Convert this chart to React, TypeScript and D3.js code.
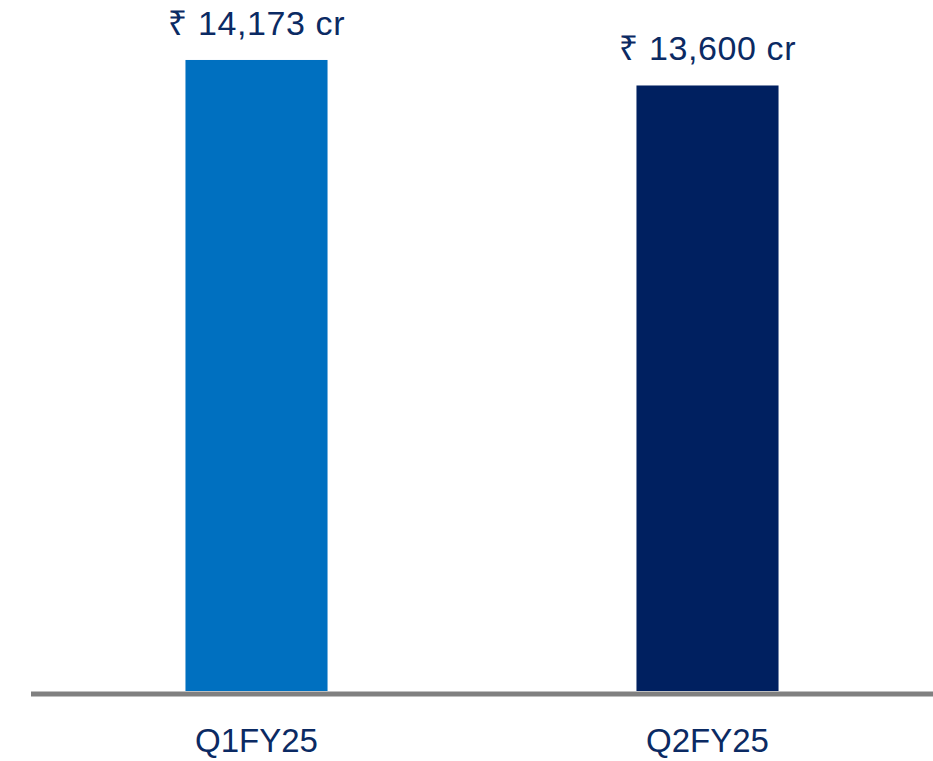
import * as d3 from "d3";
import { useEffect, useRef } from "react";

const categories = ["Q1FY25", "Q2FY25"];
const values = [14173, 13600];
const valueLabels = ["₹ 14,173 cr", "₹ 13,600 cr"];
const barColors = ["#0070c0", "#002060"];

export default function App() {
  const ref = useRef<SVGSVGElement>(null);
  const width = 933;
  const height = 761;

  useEffect(() => {
    const svg = d3.select(ref.current);
    svg.selectAll("*").remove();

    const baseY = 691;
    const x = d3
      .scaleBand()
      .domain(categories)
      .range([31, 933])
      .paddingInner(0.685)
      .paddingOuter(0.3425);

    const y = d3.scaleLinear().domain([0, 15520]).range([baseY, 0]);

    const font = "'Liberation Sans', Arial, 'Noto Sans', sans-serif";
    const textColor = "#0b2a63";

    svg
      .append("g")
      .selectAll("rect")
      .data(values)
      .join("rect")
      .attr("x", (_, i) => x(categories[i])!)
      .attr("y", (d) => y(d))
      .attr("width", x.bandwidth())
      .attr("height", (d) => baseY - y(d))
      .attr("fill", (_, i) => barColors[i]);

    svg
      .append("line")
      .attr("x1", 31)
      .attr("x2", 933)
      .attr("y1", baseY + 3)
      .attr("y2", baseY + 3)
      .attr("stroke", "#808080")
      .attr("stroke-width", 5);

    svg
      .append("g")
      .attr("font-family", font)
      .attr("font-size", 34)
      .attr("letter-spacing", 0.6)
      .attr("fill", textColor)
      .attr("text-anchor", "middle")
      .selectAll("text")
      .data(values)
      .join("text")
      .attr("x", (_, i) => x(categories[i])! + x.bandwidth() / 2)
      .attr("y", (d) => y(d) - 25)
      .text((_, i) => valueLabels[i]);

    svg
      .append("g")
      .attr("font-family", font)
      .attr("font-size", 33)
      .attr("fill", textColor)
      .attr("text-anchor", "middle")
      .selectAll("text")
      .data(categories)
      .join("text")
      .attr("x", (d) => x(d)! + x.bandwidth() / 2)
      .attr("y", 752)
      .text((d) => d);
  }, []);

  return (
    <svg
      ref={ref}
      width={width}
      height={height}
      style={{ position: "absolute", left: 0, top: 0, background: "#fff" }}
    />
  );
}
